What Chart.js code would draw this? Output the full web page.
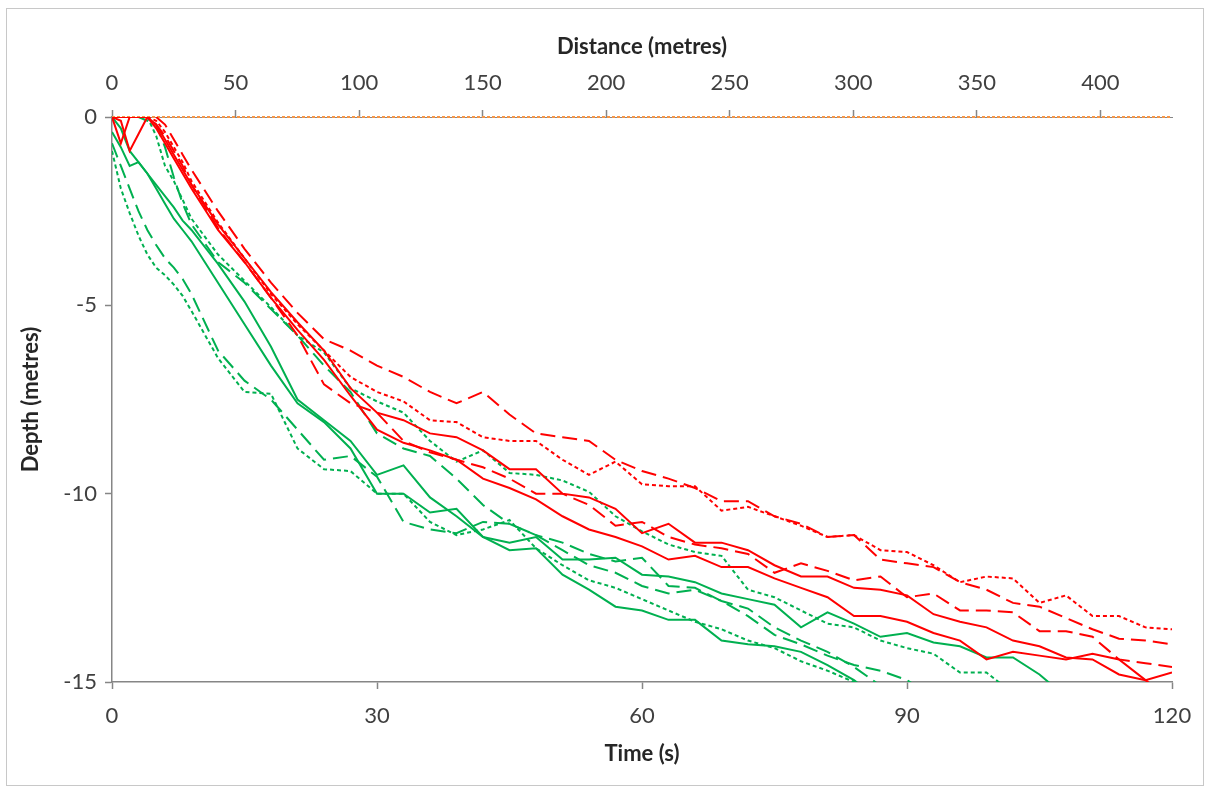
<!DOCTYPE html>
<html>
<head>
<meta charset="utf-8">
<script src="https://cdn.jsdelivr.net/npm/chart.js@4.4.1/dist/chart.umd.min.js"></script>
<style>
  html, body { margin: 0; padding: 0; background: #fff; }
  #wrap { position: relative; width: 1209px; height: 787px; }
  #frame { position: absolute; left: 6px; top: 8px; width: 1196px; height: 776px; border: 1px solid #c8c8c8; pointer-events: none; }
</style>
</head>
<body>
<div id="wrap">
  <canvas id="depthChart" width="1209" height="787"></canvas>
  <div id="frame"></div>
</div>
<script>
// time (s) at which every run was sampled
const times = [0, 1, 2, 3, 4, 5, 6, 7, 8, 9,
  12, 15, 18, 21, 24, 27, 30, 33, 36, 39, 42, 45, 48, 51, 54, 57, 60, 63, 66, 69,
  72, 75, 78, 81, 84, 87, 90, 93, 96, 99, 102, 105, 108, 111, 114, 117, 120];

// depth (m) of each run
const redSolidA = [0, -0.7, 0, 0, 0, -0.2, -0.6, -1.0, -1.4, -1.8,
  -2.85, -3.75, -4.65, -5.45, -6.2, -7.2, -7.85, -8.05, -8.4, -8.5,
  -8.85, -9.35, -9.35, -10.0, -10.1, -10.4, -11.05, -10.8, -11.3, -11.3,
  -11.5, -11.9, -12.2, -12.2, -12.5, -12.55, -12.7, -13.2, -13.4, -13.55,
  -13.9, -14.05, -14.35, -14.4, -14.8, -14.95, -14.75];
const redSolidB = [0, -0.1, -0.9, -0.45, 0, -0.3, -0.7, -1.1, -1.5, -1.9,
  -3.0, -3.85, -4.8, -5.65, -6.45, -7.4, -8.3, -8.65, -8.85, -9.1,
  -9.6, -9.85, -10.15, -10.6, -10.95, -11.15, -11.4, -11.75, -11.65, -11.95,
  -11.95, -12.25, -12.5, -12.75, -13.25, -13.25, -13.4, -13.7, -13.9, -14.4,
  -14.2, -14.3, -14.4, -14.25, -14.4, -14.95, -15.5];
const redDashA = [0, 0, 0, 0, 0, 0, -0.2, -0.6, -1.0, -1.4,
  -2.5, -3.5, -4.4, -5.2, -5.9, -6.2, -6.6, -6.9, -7.3, -7.6,
  -7.3, -7.9, -8.4, -8.5, -8.6, -9.1, -9.4, -9.6, -9.85, -10.2,
  -10.2, -10.6, -10.8, -11.15, -11.1, -11.75, -11.85, -11.95, -12.35, -12.55,
  -12.9, -13.0, -13.3, -13.6, -13.85, -13.9, -14.0];
const redDashB = [0, 0, 0, 0, 0, -0.2, -0.5, -0.9, -1.3, -1.8,
  -2.95, -3.85, -4.8, -5.8, -7.1, -7.6, -7.85, -8.6, -8.9, -9.1,
  -9.3, -9.6, -10.0, -10.0, -10.3, -10.85, -10.75, -11.15, -11.35, -11.45,
  -11.6, -12.1, -11.85, -12.05, -12.3, -12.2, -12.75, -12.65, -13.1, -13.1,
  -13.15, -13.65, -13.65, -13.8, -14.4, -14.5, -14.6];
const redDot = [0, 0, 0, 0, 0, -0.1, -0.4, -0.8, -1.2, -1.7,
  -2.8, -3.75, -4.7, -5.5, -6.2, -6.9, -7.3, -7.55, -8.05, -8.1,
  -8.5, -8.6, -8.6, -9.1, -9.5, -9.15, -9.75, -9.8, -9.8, -10.45,
  -10.35, -10.6, -10.85, -11.15, -11.1, -11.5, -11.55, -11.9, -12.35, -12.2,
  -12.25, -12.9, -12.7, -13.25, -13.25, -13.55, -13.6];

const greenSolidA = [0, -0.3, -0.9, -1.2, -1.5, -1.8, -2.1, -2.4, -2.75, -3.0,
  -3.9, -4.9, -6.1, -7.5, -8.05, -8.6, -9.5, -9.25, -10.1, -10.6,
  -11.15, -11.3, -11.15, -11.75, -11.75, -11.7, -12.15, -12.2, -12.35, -12.65,
  -12.8, -12.95, -13.55, -13.15, -13.45, -13.8, -13.7, -13.95, -14.05, -14.35,
  -14.35, -14.8, -15.4, null, null, null, null];
const greenSolidB = [-0.4, -0.8, -1.3, -1.2, -1.5, -1.9, -2.3, -2.7, -3.0, -3.3,
  -4.4, -5.5, -6.6, -7.6, -8.1, -8.8, -10.0, -10.0, -10.5, -10.4,
  -11.15, -11.5, -11.45, -12.15, -12.55, -13.0, -13.1, -13.35, -13.35, -13.9,
  -14.0, -14.05, -14.2, -14.55, -14.95, -15.5, null, null, null, null,
  null, null, null, null, null, null, null];
const greenDashA = [0, 0, 0, 0, -0.1, -0.2, -0.8, -1.6, -2.3, -2.85,
  -3.85, -4.4, -5.1, -5.8, -6.6, -7.3, -8.4, -8.8, -9.0, -9.6,
  -10.3, -10.8, -11.1, -11.3, -11.6, -11.8, -11.7, -12.45, -12.5, -12.85,
  -13.25, -13.75, -14.0, -14.3, -14.55, -14.7, -14.95, -15.4, null, null,
  null, null, null, null, null, null, null];
const greenDashB = [-0.7, -1.3, -1.9, -2.5, -3.0, -3.4, -3.75, -4.0, -4.3, -4.7,
  -6.2, -7.0, -7.5, -8.3, -9.1, -9.0, -9.55, -10.75, -10.95, -11.05,
  -10.75, -10.8, -11.1, -11.5, -11.9, -12.1, -12.45, -12.65, -12.55, -12.85,
  -13.05, -13.55, -13.9, -14.2, -14.6, -15.1, -15.6, null, null, null,
  null, null, null, null, null, null, null];
const greenDotA = [0, 0, 0, 0, 0, -0.5, -1.3, -1.7, -2.2, -2.7,
  -3.65, -4.35, -5.05, -5.8, -6.25, -7.2, -7.55, -7.85, -8.6, -9.15,
  -8.85, -9.45, -9.5, -9.65, -9.95, -10.6, -11.0, -11.35, -11.55, -11.65,
  -12.55, -12.75, -13.1, -13.45, -13.55, -13.9, -14.1, -14.25, -14.75, -14.75,
  -15.3, null, null, null, null, null, null];
const greenDotB = [-0.9, -1.9, -2.55, -3.15, -3.65, -4.0, -4.2, -4.45, -4.75, -5.15,
  -6.4, -7.3, -7.35, -8.8, -9.35, -9.4, -10.0, -10.0, -10.75, -11.1,
  -10.95, -10.7, -11.45, -11.9, -12.3, -12.5, -12.8, -13.1, -13.4, -13.6,
  -13.9, -14.1, -14.45, -14.7, -15.0, -15.4, null, null, null, null,
  null, null, null, null, null, null, null];

// surface line along the distance axis
const surfaceDistance = [0, 429];
const surfaceDepth = [0, 0];

const timeTicks = [0, 120, 30];        // min, max, step
const distanceTicks = [0, 429, 50];
const depthTicks = [-15, 0, 5];

const RED = "#FF0000";
const GREEN = "#00B050";
const AXIS = "#868686";
const DASH = [15, 7];
const DOT = [4, 3];

function run(values, color, dash) {
  return {
    data: times.map((t, i) => ({ x: t, y: values[i] })),
    borderColor: color,
    borderWidth: 2,
    borderDash: dash,
    pointRadius: 0,
    tension: 0,
    fill: false,
    spanGaps: false,
    xAxisID: "x",
    yAxisID: "y"
  };
}

const datasets = [
  run(redSolidA, RED, []),
  run(redSolidB, RED, []),
  run(redDashA, RED, DASH),
  run(redDashB, RED, DASH),
  run(redDot, RED, DOT),
  run(greenSolidA, GREEN, []),
  run(greenSolidB, GREEN, []),
  run(greenDashA, GREEN, DASH),
  run(greenDashB, GREEN, DASH),
  run(greenDotA, GREEN, DOT),
  run(greenDotB, GREEN, DOT),
  {
    data: surfaceDistance.map((d, i) => ({ x: d, y: surfaceDepth[i] })),
    borderColor: "#F79646",
    borderWidth: 2,
    borderDash: [3, 2],
    pointRadius: 0,
    clip: false,
    xAxisID: "x2",
    yAxisID: "y"
  }
];

const tickFont = { family: "Lato", size: 22 };
const titleFont = { family: "Lato", size: 22, weight: "bold" };

new Chart(document.getElementById("depthChart"), {
  type: "line",
  data: { datasets: datasets },
  options: {
    responsive: false,
    animation: false,
    layout: { padding: { left: 0, right: 37, top: 0, bottom: 0 } },
    plugins: { legend: { display: false }, tooltip: { enabled: false } },
    scales: {
      x: {
        type: "linear",
        position: "bottom",
        min: timeTicks[0],
        max: timeTicks[1],
        ticks: { stepSize: timeTicks[2], font: tickFont, color: "#404040", padding: 14 },
        grid: { drawOnChartArea: false, tickLength: 7, color: AXIS, tickWidth: 1.5 },
        border: { color: AXIS, width: 1.5 },
        title: { display: true, text: "Time (s)", font: titleFont, color: "#262626", padding: { top: 0, bottom: 20 } },
        afterFit: s => { s.height = 105; }
      },
      x2: {
        type: "linear",
        position: "top",
        min: distanceTicks[0],
        max: distanceTicks[1],
        ticks: { stepSize: distanceTicks[2], includeBounds: false, font: tickFont, color: "#404040", padding: 14 },
        grid: { drawOnChartArea: false, tickLength: 7, color: AXIS, tickWidth: 1.5 },
        border: { color: AXIS, width: 1 },
        title: { display: true, text: "Distance (metres)", font: titleFont, color: "#262626", padding: { top: 34, bottom: 0 } },
        afterFit: s => { s.height = 117; }
      },
      y: {
        type: "linear",
        position: "left",
        min: depthTicks[0],
        max: depthTicks[1],
        ticks: { stepSize: depthTicks[2], font: tickFont, color: "#404040", padding: 8 },
        grid: { drawOnChartArea: false, tickLength: 7, color: AXIS, tickWidth: 1.5 },
        border: { color: AXIS, width: 1.5 },
        title: { display: true, text: "Depth (metres)", font: titleFont, color: "#262626", padding: { top: 18, bottom: 0 } },
        afterFit: s => { s.width = 112; }
      }
    }
  }
});
</script>
</body>
</html>
